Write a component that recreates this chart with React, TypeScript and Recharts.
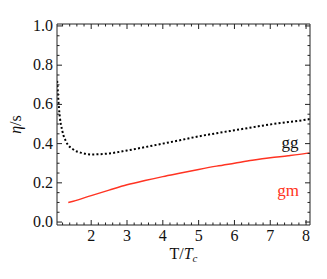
import React from 'react';
import { LineChart, Line, XAxis, YAxis, ReferenceDot } from 'recharts';

const ggT = [1.05, 1.1, 1.2, 1.3, 1.5, 1.75, 2, 2.5, 3, 3.5, 4, 4.5, 5, 5.5, 6, 6.5, 7, 7.5, 8, 8.1];
const ggEta = [0.72, 0.58, 0.46, 0.41, 0.37, 0.352, 0.345, 0.35, 0.365, 0.382, 0.4, 0.418, 0.437, 0.453, 0.468, 0.483, 0.498, 0.51, 0.522, 0.525];
const gmT = [1.36, 1.5, 2, 2.5, 3, 3.5, 4, 4.5, 5, 5.5, 6, 6.5, 7, 7.5, 8, 8.1];
const gmEta = [0.1, 0.106, 0.135, 0.163, 0.19, 0.212, 0.232, 0.25, 0.268, 0.285, 0.3, 0.315, 0.328, 0.338, 0.35, 0.353];

const xTicks = [1.2, 1.4, 1.6, 1.8, 2, 2.2, 2.4, 2.6, 2.8, 3, 3.2, 3.4, 3.6, 3.8, 4, 4.2, 4.4, 4.6, 4.8, 5, 5.2, 5.4, 5.6, 5.8, 6, 6.2, 6.4, 6.6, 6.8, 7, 7.2, 7.4, 7.6, 7.8, 8];
const yTicks = [0, 0.05, 0.1, 0.15, 0.2, 0.25, 0.3, 0.35, 0.4, 0.45, 0.5, 0.55, 0.6, 0.65, 0.7, 0.75, 0.8, 0.85, 0.9, 0.95, 1.0];

const seriesNames = ['gg', 'gm'];
const annotT = [7.55, 7.5];
const annotEta = [0.408, 0.163];

const ggData = ggT.map((t, i) => ({ T: t, eta: ggEta[i] }));
const gmData = gmT.map((t, i) => ({ T: t, eta: gmEta[i] }));

const FONT = 'Liberation Serif, serif';
const AX = '#222';
const RED = '#ff3322';

const isMajorX = (v: number) => Math.abs(v - Math.round(v)) < 1e-6;
const isMajorY = (v: number) => Math.abs(v * 5 - Math.round(v * 5)) < 1e-6;

const BottomTick = (p: any) => {
  const { x, y, payload } = p;
  const v = payload.value;
  const major = isMajorX(v);
  return (
    <g>
      <line x1={x} y1={y} x2={x} y2={y - (major ? 5 : 2.5)} stroke={AX} strokeWidth={1} />
      {major && (
        <text x={x} y={y + 16} textAnchor="middle" fontFamily={FONT} fontSize={16} style={{ fontSize: 16, fontFamily: FONT }} fill="#111">
          {Math.round(v)}
        </text>
      )}
    </g>
  );
};

const TopTick = (p: any) => {
  const { x, y, payload } = p;
  const major = isMajorX(payload.value);
  return <line x1={x} y1={y} x2={x} y2={y + (major ? 5 : 2.5)} stroke={AX} strokeWidth={1} />;
};

const LeftTick = (p: any) => {
  const { x, y, payload } = p;
  const v = payload.value;
  const major = isMajorY(v);
  return (
    <g>
      <line x1={x} y1={y} x2={x + (major ? 5 : 2.5)} y2={y} stroke={AX} strokeWidth={1} />
      {major && (
        <text x={x - 4} y={y + 5} textAnchor="end" fontFamily={FONT} fontSize={16} style={{ fontSize: 16, fontFamily: FONT }} fill="#111">
          {v.toFixed(1)}
        </text>
      )}
    </g>
  );
};

const RightTick = (p: any) => {
  const { x, y, payload } = p;
  const major = isMajorY(payload.value);
  return <line x1={x} y1={y} x2={x - (major ? 5 : 2.5)} y2={y} stroke={AX} strokeWidth={1} />;
};

const XLabel = (p: any) => {
  const vb = p.viewBox || {};
  const cx = vb.x + vb.width / 2;
  const y = vb.y + 34;
  return (
    <text x={cx} y={y} textAnchor="middle" style={{ fontSize: 16, fontFamily: FONT }} fill="#111">
      <tspan>T/</tspan>
      <tspan fontStyle="italic">T</tspan>
      <tspan fontStyle="italic" style={{ fontSize: 11 }} dy={3}>c</tspan>
    </text>
  );
};

const YLabel = (p: any) => {
  const vb = p.viewBox || {};
  const cx = 21;
  const cy = vb.y + vb.height / 2;
  return (
    <text x={cx} y={cy} textAnchor="middle" style={{ fontSize: 16, fontFamily: FONT }} fill="#111" transform={`rotate(-90 ${cx} ${cy})`}>
      <tspan fontStyle="italic">η</tspan>
      <tspan>/s</tspan>
    </text>
  );
};

export default function App() {
  return (
    <div style={{ position: 'absolute', left: 0, top: 0, width: 327, height: 279 }}>
      <LineChart width={327} height={279} margin={{ top: 23, right: 16, bottom: 24, left: 12 }}>
        <XAxis
          xAxisId={0}
          dataKey="T"
          type="number"
          domain={[1.045, 8.11]}
          ticks={xTicks}
          interval={0}
          allowDataOverflow
          tickLine={false}
          tickSize={0}
          tickMargin={0}
          tick={BottomTick}
          axisLine={{ stroke: AX, strokeWidth: 1 }}
          height={30}
          label={<XLabel />}
        />
        <XAxis
          xAxisId="top"
          orientation="top"
          dataKey="T"
          type="number"
          domain={[1.045, 8.11]}
          ticks={xTicks}
          interval={0}
          allowDataOverflow
          tickLine={false}
          tickSize={0}
          tickMargin={0}
          tick={TopTick}
          axisLine={{ stroke: AX, strokeWidth: 1 }}
          height={1}
        />
        <YAxis
          yAxisId={0}
          type="number"
          domain={[-0.015, 1.01]}
          ticks={yTicks}
          interval={0}
          allowDataOverflow
          tickLine={false}
          tickSize={0}
          tickMargin={0}
          tick={LeftTick}
          axisLine={{ stroke: AX, strokeWidth: 1 }}
          width={45}
          label={<YLabel />}
        />
        <YAxis
          yAxisId="right"
          orientation="right"
          type="number"
          domain={[-0.015, 1.01]}
          ticks={yTicks}
          interval={0}
          allowDataOverflow
          tickLine={false}
          tickSize={0}
          tickMargin={0}
          tick={RightTick}
          axisLine={{ stroke: AX, strokeWidth: 1 }}
          width={1}
        />
        <Line
          data={ggData}
          dataKey="eta"
          type="monotone"
          stroke="#000"
          strokeWidth={2}
          strokeDasharray="2 2.2"
          dot={false}
          isAnimationActive={false}
        />
        <Line
          data={gmData}
          dataKey="eta"
          type="monotone"
          stroke={RED}
          strokeWidth={1.4}
          dot={false}
          isAnimationActive={false}
        />
        <ReferenceDot
          x={annotT[0]}
          y={annotEta[0]}
          r={0}
          fill="none"
          stroke="none"
          label={{ value: seriesNames[0], position: 'center', fill: '#111', fontSize: 17, fontFamily: FONT }}
        />
        <ReferenceDot
          x={annotT[1]}
          y={annotEta[1]}
          r={0}
          fill="none"
          stroke="none"
          label={{ value: seriesNames[1], position: 'center', fill: RED, fontSize: 17, fontFamily: FONT }}
        />
      </LineChart>
    </div>
  );
}
